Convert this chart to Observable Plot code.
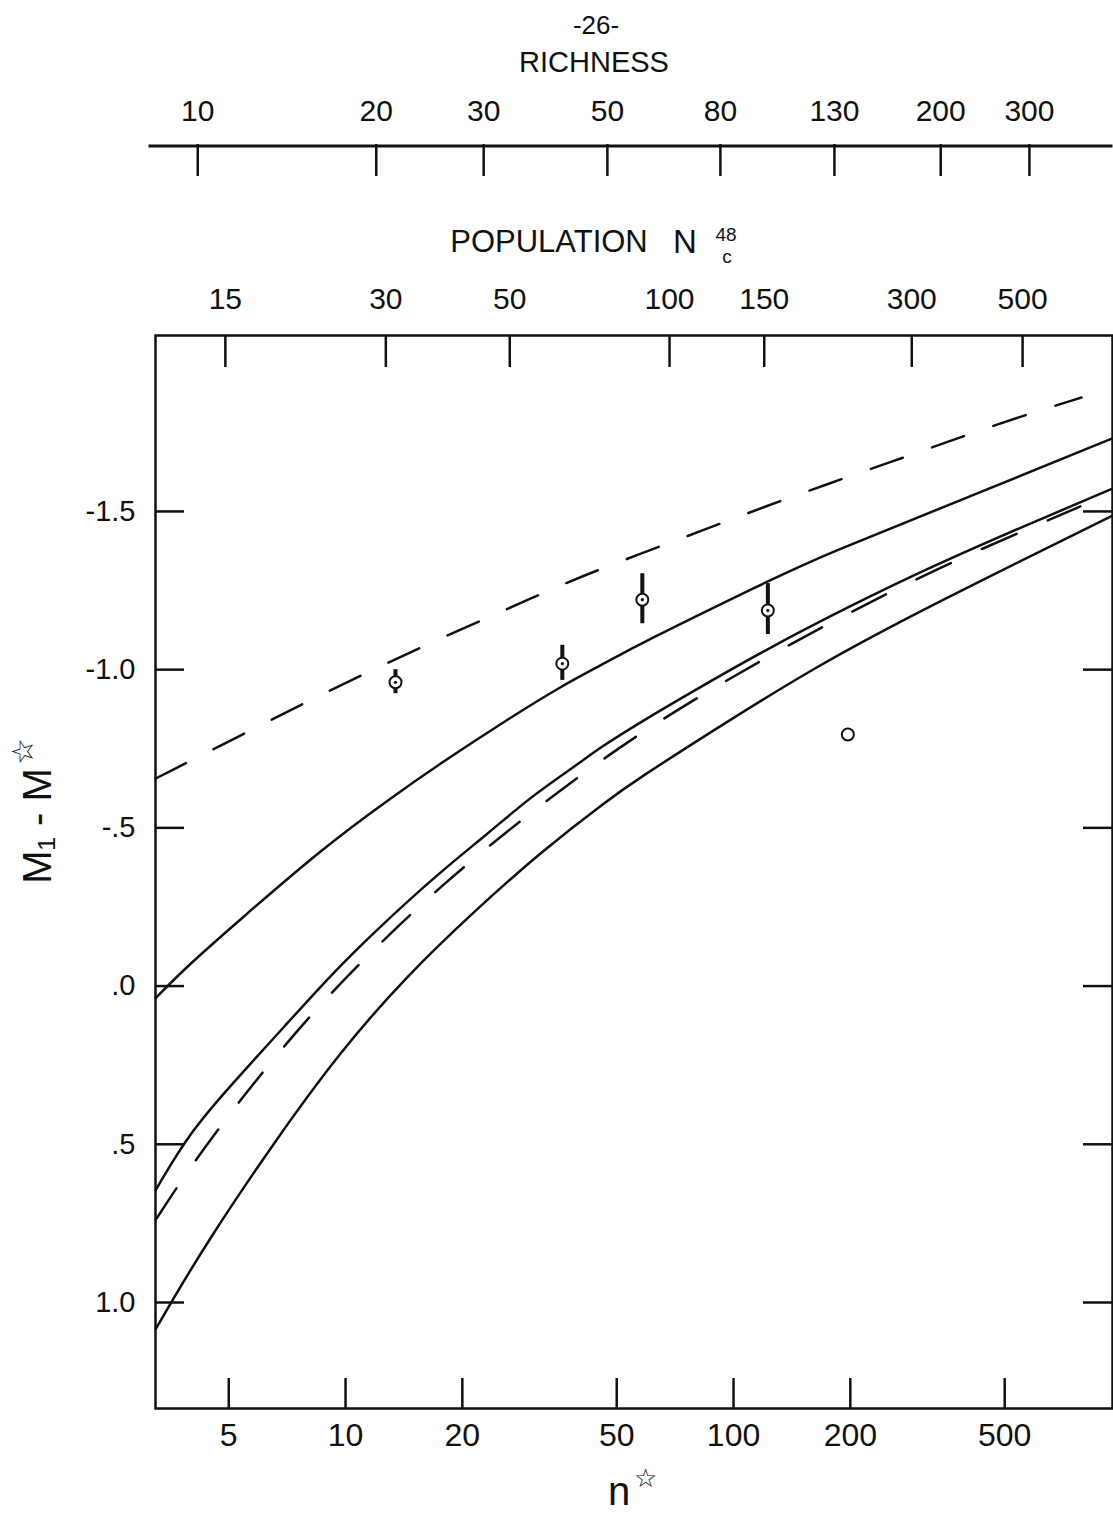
<!DOCTYPE html>
<html>
<head>
<meta charset="utf-8">
<script src="https://cdn.jsdelivr.net/npm/d3@7"></script>
<script src="https://cdn.jsdelivr.net/npm/@observablehq/plot@0.6"></script>
<style>
  html, body { margin: 0; padding: 0; background: #fff; }
  #chart svg { display: block; }
</style>
</head>
<body>
<div id="chart"></div>
<script>
// ---- axis ticks / labels ----
const nTicks = [5, 10, 20, 50, 100, 200, 500];
const yTicks = [-1.5, -1.0, -0.5, 0, 0.5, 1.0];
const yTickLabels = ["-1.5", "-1.0", "-.5", ".0", ".5", "1.0"];
// Population N_c^48 scale (labels and where they fall on the n* axis)
const popLabels = ["15", "30", "50", "100", "150", "300", "500"];
const popAtN = [4.9, 12.7, 26.5, 68.4, 120, 288, 556];
// Richness scale (labels and where they fall on the n* axis)
const richLabels = ["10", "20", "30", "50", "80", "130", "200", "300"];
const richAtN = [4.16, 12.0, 22.7, 47.3, 92.5, 182, 342, 579];

// ---- curves (n*, M1 - M*) ----
const upperDashN = [3.24, 5.56, 8.18, 11.95, 17.57, 26.0, 37.55, 56.9, 83.2, 120.9, 176.8, 256.9, 371.2, 539.5, 788.6];
const upperDashV = [-0.656, -0.802, -0.906, -1.004, -1.099, -1.190, -1.279, -1.364, -1.440, -1.516, -1.589, -1.658, -1.728, -1.797, -1.860];

const upperSolidN = [3.24, 3.92, 5.36, 8.72, 12.83, 17.57, 26.62, 36.26, 45.41, 57.6, 122.3, 169.6, 401, 948];
const upperSolidV = [0.038, -0.065, -0.211, -0.435, -0.587, -0.704, -0.849, -0.950, -1.013, -1.083, -1.279, -1.361, -1.544, -1.731];

const middleSolidN = [3.24, 3.99, 5.36, 6.93, 9.15, 11.83, 17.57, 23.19, 29.99, 38.77, 45.41, 57.6, 74.45, 122.1, 200.2, 328.3, 558.9, 948];
const middleSolidV = [0.645, 0.456, 0.280, 0.130, -0.034, -0.170, -0.362, -0.480, -0.598, -0.692, -0.755, -0.834, -0.915, -1.066, -1.202, -1.329, -1.453, -1.572];

const middleDashN = [3.24, 3.99, 5.47, 8.21, 12.07, 17.75, 25.85, 38.0, 55.34, 82.2, 119.7, 175.5, 252.8, 369.7, 538.5, 784];
const middleDashV = [0.739, 0.569, 0.343, 0.082, -0.128, -0.320, -0.486, -0.644, -0.786, -0.918, -1.034, -1.145, -1.245, -1.343, -1.430, -1.516];

const lowerSolidN = [3.24, 3.54, 4.40, 6.54, 9.71, 14.42, 21.41, 31.8, 47.25, 57.6, 82.2, 161.1, 328.3, 948];
const lowerSolidV = [1.084, 1.003, 0.808, 0.494, 0.205, -0.034, -0.235, -0.423, -0.587, -0.660, -0.782, -1.008, -1.208, -1.487];

// ---- observed clusters ----
const obsN  = [13.45, 36.2, 58.2, 122.6, 197.1];
const obsV  = [-0.960, -1.019, -1.221, -1.187, -0.795];
const obsLo = [-1.000, -1.077, -1.303, -1.272, null];
const obsHi = [-0.924, -0.966, -1.145, -1.111, null];

// ---- build tables ----
const toRows = (ns, vs) => ns.map((n, i) => ({n, v: vs[i]}));
const upperDash = toRows(upperDashN, upperDashV);
const upperSolid = toRows(upperSolidN, upperSolidV);
const middleSolid = toRows(middleSolidN, middleSolidV);
const middleDash = toRows(middleDashN, middleDashV);
const lowerSolid = toRows(lowerSolidN, lowerSolidV);
const obs = obsN.map((n, i) => ({n, v: obsV[i], lo: obsLo[i], hi: obsHi[i]}));
const obsBars = obs.filter(d => d.lo != null);
const yTickRows = yTicks.map((v, i) => ({v, label: yTickLabels[i]}));
const popRows = popLabels.map((label, i) => ({n: popAtN[i], label}));
const richRows = richLabels.map((label, i) => ({n: richAtN[i], label}));

const W = 1113, H = 1520;
const mL = 155, mR = 1, mT = 335, mB = 112;
const frameH = H - mT - mB;      // 1073
const frameW = W - mL - mR;      // 957
const ink = "#111";
const sw = 2.5;
const font = "Liberation Sans, Arial, sans-serif";
const T = {fill: ink, lineAnchor: "middle", textAnchor: "middle"};

// richness scale line sits 191px above the frame; its ticks hang 32px below it
const richLineOffset = 191;
const richTickLen = 32;

const chart = Plot.plot({
  width: W,
  height: H,
  marginLeft: mL,
  marginRight: mR,
  marginTop: mT,
  marginBottom: mB,
  style: {fontFamily: font, background: "#fff", color: ink, overflow: "visible"},
  x: {type: "log", domain: [3.237, 948], axis: null},
  y: {domain: [-2.056, 1.335], reverse: true, axis: null},
  marks: [
    // plot frame
    Plot.frame({stroke: ink, strokeWidth: sw}),

    // ---- Richness scale (separate line above the plot) ----
    Plot.frame({fill: ink, stroke: null, insetTop: -richLineOffset, insetBottom: frameH + richLineOffset - 3, insetLeft: -7}),
    Plot.ruleX(richRows, {x: "n", stroke: ink, strokeWidth: sw, insetTop: -richLineOffset, insetBottom: frameH + richLineOffset - richTickLen}),
    Plot.text(richRows, {...T, x: "n", text: "label", frameAnchor: "top", dy: -224, fontSize: 30}),
    Plot.text(["RICHNESS"], {...T, frameAnchor: "top", dx: -40, dy: -273, fontSize: 29}),
    Plot.text(["-26-"], {...T, frameAnchor: "top", dx: -38, dy: -310, fontSize: 26}),

    // ---- Population scale (top of the frame) ----
    Plot.ruleX(popRows, {x: "n", stroke: ink, strokeWidth: sw, insetBottom: frameH - 32}),
    Plot.text(popRows, {...T, x: "n", text: "label", frameAnchor: "top", dy: -36, fontSize: 30}),
    Plot.text(["POPULATION"], {...T, frameAnchor: "top", dx: -85, dy: -93, fontSize: 31}),
    Plot.text(["N"], {...T, frameAnchor: "top", dx: 51, dy: -93, fontSize: 33}),
    Plot.text(["48"], {...T, frameAnchor: "top", dx: 92, dy: -101, fontSize: 19}),
    Plot.text(["c"], {...T, frameAnchor: "top", dx: 93, dy: -79, fontSize: 19}),

    // ---- bottom n* axis ----
    Plot.ruleX(nTicks, {stroke: ink, strokeWidth: sw, insetTop: frameH - 30}),
    Plot.text(nTicks, {...T, x: d => d, text: d => String(d), frameAnchor: "bottom", dy: 27, fontSize: 32}),
    Plot.text(["n"], {...T, frameAnchor: "bottom", dx: -15, dy: 84, fontSize: 40}),
    Plot.text(["\u2606"], {...T, frameAnchor: "bottom", dx: 11, dy: 70, fontSize: 26}),

    // ---- y axis (left and right inward ticks) ----
    Plot.ruleY(yTicks, {stroke: ink, strokeWidth: sw, insetRight: frameW - 29}),
    Plot.ruleY(yTicks, {stroke: ink, strokeWidth: sw, insetLeft: frameW - 29}),
    Plot.text(yTickRows, {...T, y: "v", text: "label", frameAnchor: "left", textAnchor: "end", dx: -20, fontSize: 29}),
    Plot.text(["M\u2081 - M"], {...T, frameAnchor: "left", rotate: -90, dx: -117, dy: -46, fontSize: 40}),
    Plot.text(["\u2606"], {...T, frameAnchor: "left", rotate: -90, dx: -132, dy: -121, fontSize: 30}),

    // ---- curves ----
    Plot.line(upperDash, {x: "n", y: "v", curve: "basis", stroke: ink, strokeWidth: sw, strokeDasharray: "34,31"}),
    Plot.line(upperSolid, {x: "n", y: "v", curve: "basis", stroke: ink, strokeWidth: sw}),
    Plot.line(middleSolid, {x: "n", y: "v", curve: "basis", stroke: ink, strokeWidth: sw}),
    Plot.line(middleDash, {x: "n", y: "v", curve: "basis", stroke: ink, strokeWidth: sw, strokeDasharray: "38,34"}),
    Plot.line(lowerSolid, {x: "n", y: "v", curve: "basis", stroke: ink, strokeWidth: sw}),

    // ---- observations ----
    Plot.ruleX(obsBars, {x: "n", y1: "lo", y2: "hi", stroke: ink, strokeWidth: 4}),
    Plot.dot(obs, {x: "n", y: "v", r: 6, fill: "#fff", stroke: ink, strokeWidth: 2}),
    Plot.dot(obsBars, {x: "n", y: "v", r: 1.6, fill: ink, stroke: null})
  ]
});
document.getElementById("chart").appendChild(chart);
</script>
</body>
</html>
